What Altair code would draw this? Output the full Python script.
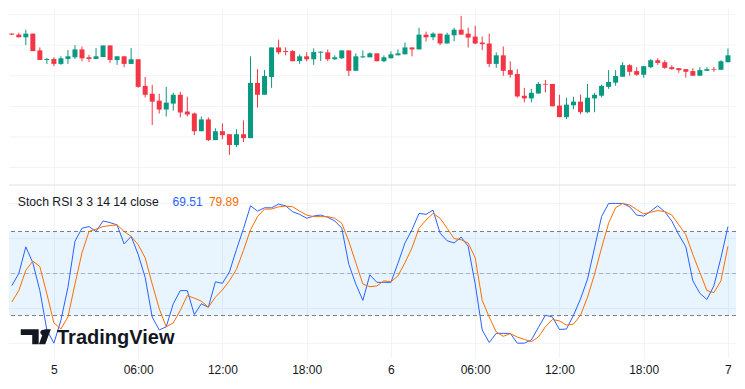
import altair as alt
import pandas as pd

# ---------------- data ----------------
# 30-minute bars, 4 Jan 21:00 -> 7 Jan 00:00
times = pd.date_range("2024-01-04 21:00", "2024-01-07 00:00", freq="30min").strftime("%Y-%m-%dT%H:%M:%S").tolist()

open_ = [154, 153, 150.3, 154, 137, 127.3, 128.3, 123.3, 128.3, 130, 138, 130, 128.3, 130.3, 142, 127.3, 131, 123.3,
         128, 101, 93, 86, 77, 83, 92, 75, 73, 55, 67, 46, 55, 52, 41, 52, 48, 104, 92, 110, 140, 136.3, 136.3, 126.3,
         131, 128, 134.7, 135, 128, 129, 137, 116.3, 130, 130, 134, 126, 129, 132, 133, 140, 138, 153, 150.3, 154, 144,
         152.3, 158, 154, 151, 145, 144, 123.3, 132, 117, 113, 91, 88.3, 93.3, 103, 103, 81, 69.3, 81.3, 85, 74.3, 88.3,
         91, 100, 104.3, 110.3, 122, 116, 112.3, 120, 127, 125, 120, 119, 118, 116, 111.3, 116.3, 118, 117.3, 125]
high = [154.5, 155, 158, 154, 140, 129.3, 130, 131, 137.3, 142.3, 141, 132.3, 139.3, 142, 142, 131, 131, 139.3,
        128, 110, 102, 93, 100, 94, 95, 90, 74, 70, 69, 58, 63, 52, 57, 66, 131, 118, 117, 140, 148, 140, 137.3, 133,
        135, 139, 136, 138, 132, 137, 137, 134, 137, 135, 134, 132, 136, 138, 145, 140, 160, 156, 155.3, 154, 155,
        160, 172, 160, 162, 151, 154, 135, 141, 126, 118, 99, 98, 105, 107, 103, 92, 89, 90, 92, 103, 94,
        102.3, 117, 117, 125, 123, 120, 121, 128.3, 129, 127, 122, 119, 118, 119, 120, 120, 120, 127, 139]
low = [152.5, 150.3, 142.3, 136.3, 127.3, 123.3, 121, 122.3, 123.3, 128.3, 126, 125.3, 128.3, 130.3, 124.3, 122.3, 120, 123.3,
       99, 89.3, 61.3, 73, 70, 76, 69, 70, 51, 55, 45, 46, 47, 31, 39, 44, 48, 79, 92, 99, 133, 132, 126, 123.3,
       126, 122.3, 126.3, 126, 127.3, 128.3, 111, 116.3, 129.3, 130, 126, 125, 129, 132, 133, 131, 138, 146, 147.3, 142.3, 144,
       146.3, 153, 140, 143.3, 137.3, 120, 119.3, 111.3, 109.3, 89, 84.3, 84.3, 93.3, 94.3, 80.3, 69.3, 67.3, 77.3, 72.3, 73.3, 74.3,
       89.3, 98, 101, 110.3, 111.3, 111.3, 109.3, 119, 122.3, 118.3, 117.3, 114.3, 109.3, 111.3, 111.3, 116.3, 115.3, 117.3, 125]
close = [153, 150.3, 154, 136.3, 127.3, 128.3, 123.3, 129, 131, 138, 129, 128.3, 131, 142, 127.3, 131, 123.3, 128,
         100, 92, 85, 77, 84, 92, 74, 72, 55, 67, 46, 55, 51, 41, 52, 48, 104, 92, 111, 140, 135, 135.3, 126, 131,
         128, 135.3, 135.7, 128, 130, 137, 116.3, 131, 131, 134, 126, 130, 133, 134, 140, 138, 153, 150.3, 154, 144, 153,
         158, 153, 150, 144, 143.3, 123.3, 132, 116.3, 112.3, 90.3, 88.3, 94, 103, 102.3, 80.3, 69.3, 82, 85, 74.3, 89, 92,
         101, 105, 111, 122, 115.3, 112.3, 121, 127, 124.3, 119.3, 118, 117, 115.3, 111.3, 117, 118, 117.3, 126, 132]

stoch_k = [41.3, 50, 69, 57.7, 37.8, 9.7, 0.3, 16.7, 40.1, 73, 82.3, 83.5, 80, 87.5, 86.3, 84.7, 71.1, 76.5,
           63.6, 47.2, 19, 9.7, 12, 28.4, 37.8, 37.8, 20.7, 28.4, 26, 44.1, 43, 51.2, 67.1, 82, 98.3, 94.5, 96.9, 96.9,
           99.5, 98.3, 94.1, 92.2, 89.4, 91, 91.7, 90.1, 87.5, 82.4, 56.6, 42.5, 30.8, 49.1, 43.7, 43.7, 43.7, 57.3,
           71.8, 81.2, 92.9, 92.2, 95.2, 78.8, 73.4, 71.8, 76, 69.4, 42.5, 9.7, 0.8, 7.3, 7.3, 7.3, 0.3, 0.3, 2.6, 11.5,
           20.2, 19, 10.1, 10.4, 20.2, 31.9, 46, 68.3, 90.6, 100, 100, 100, 97.6, 91.7, 91, 94.5, 98.3, 94.1, 87.5,
           77.7, 69, 44.8, 35.9, 31.5, 41.3, 61.2, 83.5]
stoch_d = [29.6, 37.8, 52.3, 58.9, 54.9, 35.5, 14.8, 10.5, 19, 42.5, 64.8, 80, 81.7, 83.5, 84.2, 84.7, 80, 76.5,
           70.6, 61.2, 42.5, 24.9, 12, 14.8, 23.7, 34.3, 32.4, 30.3, 26, 33.1, 38.3, 44.8, 53, 66.5, 81.2, 90.6, 96, 96,
           97.6, 98.1, 97.6, 94.5, 91.7, 90.6, 90.6, 90.6, 89.4, 85.9, 73, 57.7, 42.5, 40.6, 41.1, 44.8, 44.1, 48.3,
           57.7, 68.3, 82.3, 88.2, 92.9, 89.4, 82.3, 74.9, 74.1, 71.8, 61.2, 30.8, 19, 8.3, 5.2, 7.1, 4.7, 3, 1.4, 4.7,
           12, 17.2, 16.2, 13.2, 13.9, 20.2, 33.1, 49.5, 68.3, 85.9, 97, 100, 98.9, 95.6, 92.5, 93.7, 94.9, 94.2, 91.7,
           84.7, 77.7, 63.6, 50.7, 37.8, 36.4, 44.8, 69.5]

price_grid = [173.3, 142.3, 111.3, 80.2, 49.2, 18.2]
stoch_grid = [0, 25, 50, 75, 100]
band_levels = [80, 50, 20]
band_opacity = [1.0, 0.5, 1.0]
legend_title = "Stoch RSI 3 3 14 14 close"
legend_values = ["69.51", "79.89"]
brand = "TradingView"

# ---------------- layout constants ----------------
W, H = 727, 350
GRID = "#f0f3fa"
UP, DOWN = "#089981", "#f23645"
K_COL, D_COL = "#2962ff", "#ff6d00"
INK = "#131722"
FONT = "Liberation Sans"

df = pd.DataFrame({"t": times, "open": open_, "high": high, "low": low, "close": close,
                   "k": stoch_k, "d": stoch_d})
df["dir"] = ["up" if c >= o else "down" for o, c in zip(open_, close)]

tick_vals = [alt.DateTime(year=2024, month=1, date=d, hours=h)
             for d in (5, 6) for h in (0, 6, 12, 18)] + [alt.DateTime(year=2024, month=1, date=7, hours=0)]

x_scale = alt.Scale(domain=[alt.DateTime(year=2024, month=1, date=4, hours=21, minutes=9, seconds=30),
                            alt.DateTime(year=2024, month=1, date=7, hours=0, minutes=13)])
x_axis = alt.Axis(values=tick_vals,
                  labelExpr="hours(datum.value) == 0 ? '' + date(datum.value) : timeFormat(datum.value, '%H:%M')",
                  grid=True, gridColor=GRID, gridWidth=1, domain=False, ticks=False, tickSize=0,
                  labelPadding=6, labelFontSize=12, labelFont=FONT, labelColor=INK, labelBaseline="top",
                  labelOverlap=False, labelFlush=False, title=None)
X = alt.X("t:T", scale=x_scale, axis=x_axis, title=None)

p_scale = alt.Scale(domain=[-175, 180], nice=False, zero=False)
s_scale = alt.Scale(domain=[-10.27, 239.43], nice=False, zero=False)

one = pd.DataFrame({"o": [0]})

# ---------------- price pane ----------------
pgrid = alt.Chart(pd.DataFrame({"g": price_grid})).mark_rule(color=GRID, strokeWidth=1).encode(
    y=alt.Y("g:Q", scale=p_scale, axis=None))
sep = alt.Chart(one).mark_rule(color="#e0e3eb", strokeWidth=1).encode(
    y=alt.YDatum(0.5, scale=p_scale, axis=None))
color = alt.Color("dir:N", scale=alt.Scale(domain=["up", "down"], range=[UP, DOWN]), legend=None)
wicks = alt.Chart(df).mark_rule(strokeWidth=1, clip=True).encode(
    x=X, y=alt.Y("low:Q", scale=p_scale, axis=None), y2="high:Q", color=color)
bodies = alt.Chart(df).mark_bar(size=5, clip=True).encode(
    x=X, y=alt.Y("open:Q", scale=p_scale, axis=None), y2="close:Q", color=color)
price_pane = alt.layer(pgrid, sep, wicks, bodies)

# ---------------- Stoch RSI pane ----------------
sgrid = alt.Chart(pd.DataFrame({"g": stoch_grid})).mark_rule(color=GRID, strokeWidth=1).encode(
    y=alt.Y("g:Q", scale=s_scale, axis=None))
band = alt.Chart(one).mark_rect(color="#2196f3", opacity=0.1).encode(
    y=alt.YDatum(band_levels[0], scale=s_scale, axis=None), y2=alt.Y2Datum(band_levels[2]),
    x=alt.value(0), x2=alt.value(W))
levels = alt.Chart(pd.DataFrame({"lvl": band_levels, "op": band_opacity})).mark_rule(
    color="#787b86", strokeWidth=1, strokeDash=[4, 3]).encode(
    y=alt.Y("lvl:Q", scale=s_scale, axis=None), opacity=alt.Opacity("op:Q", scale=None, legend=None))
k_line = alt.Chart(df).mark_line(color=K_COL, strokeWidth=1, clip=True).encode(
    x=X, y=alt.Y("k:Q", scale=s_scale, axis=None))
d_line = alt.Chart(df).mark_line(color=D_COL, strokeWidth=1, clip=True).encode(
    x=X, y=alt.Y("d:Q", scale=s_scale, axis=None))

title_txt = alt.Chart(one).mark_text(text=legend_title, align="left", baseline="middle", font=FONT,
                                     fontSize=12.2, color=INK).encode(x=alt.value(8.8), y=alt.value(193.7))
k_txt = alt.Chart(one).mark_text(text=legend_values[0], align="left", baseline="middle", font=FONT,
                                 fontSize=12, color=K_COL).encode(x=alt.value(163.6), y=alt.value(193.7))
d_txt = alt.Chart(one).mark_text(text=legend_values[1], align="left", baseline="middle", font=FONT,
                                 fontSize=12, color=D_COL).encode(x=alt.value(199.9), y=alt.value(193.7))

logo_path = ("M -1 -0.498 L 0.192 -0.498 L 0.192 0.498 L -0.238 0.498 L -0.238 -0.107 L -1 -0.107 Z "
             "M 0.303 -0.283 A 0.176 0.176 0 1 0 0.655 -0.283 A 0.176 0.176 0 1 0 0.303 -0.283 Z "
             "M 0.205 0.498 L 0.629 0.498 L 1 -0.498 L 0.576 -0.498 Z")
logo = alt.Chart(one).mark_point(shape=logo_path, filled=True, size=905, color=INK, opacity=1,
                                 strokeWidth=0).encode(x=alt.value(26.8), y=alt.value(328.7))
brand_txt = alt.Chart(one).mark_text(text=brand, align="left", baseline="alphabetic", font=FONT,
                                     fontWeight="bold", fontSize=20, color=INK).encode(
    x=alt.value(48), y=alt.value(335.9))

stoch_pane = alt.layer(sgrid, band, levels, k_line, d_line, title_txt, k_txt, d_txt, logo, brand_txt)

chart = alt.layer(price_pane, stoch_pane).resolve_scale(y="independent").properties(
    width=W, height=H, padding=0, background="white"
).configure_view(stroke=None)

chart.save("out.html", embed_options={"renderer": "svg", "actions": False})
